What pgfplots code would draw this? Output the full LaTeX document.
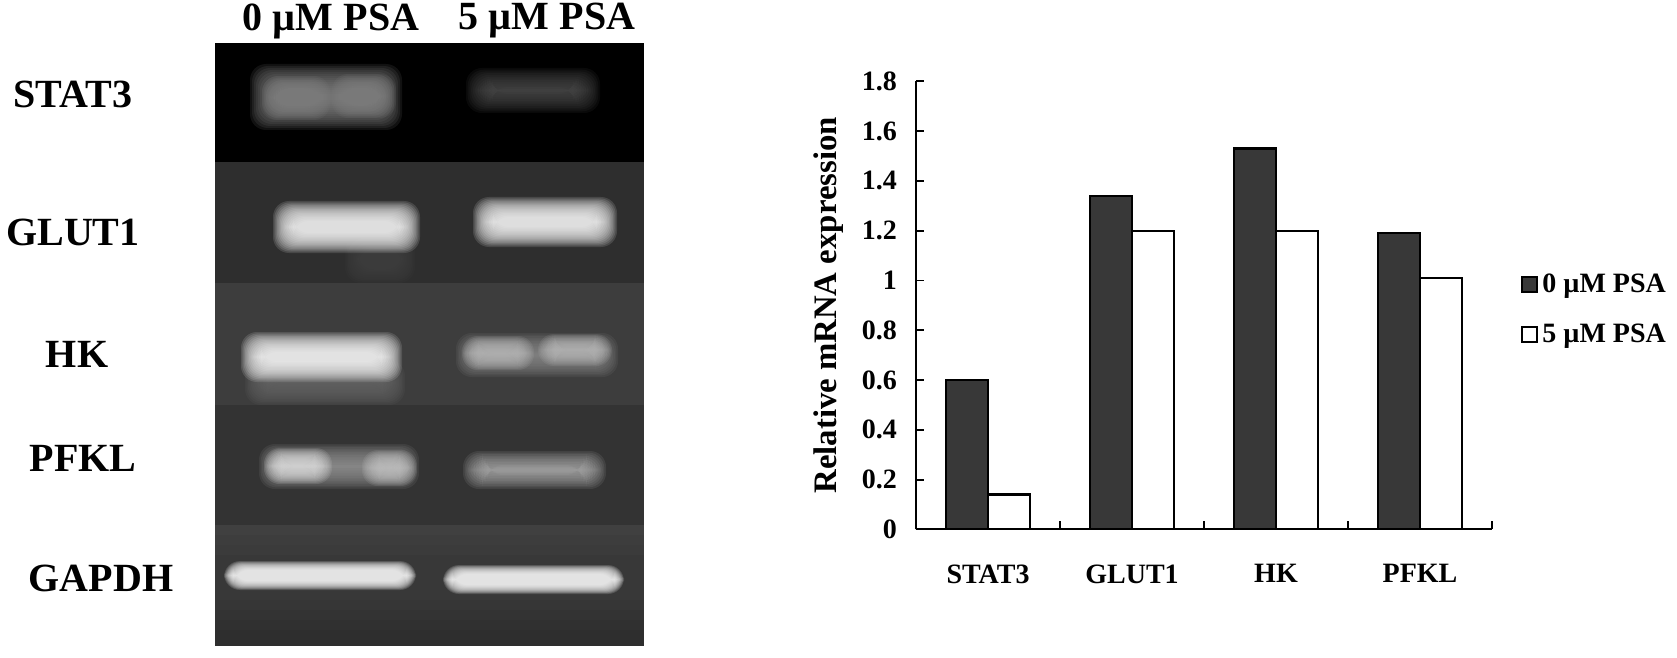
\documentclass[border=0pt]{standalone}
\usepackage{fontspec}
\setmainfont{Liberation Serif}
\usepackage{pgfplots}
\pgfplotsset{compat=1.18}

\definecolor{bardark}{HTML}{383838}

% gel coordinates are reference pixels
\newcommand\panel[3]{%
  \addplot[draw=none,fill=#3] coordinates {(215,#1)(644,#1)(644,#2)(215,#2)} --cycle;}
% soft band: x0 x1 y0 y1 blur colour
\newcommand\band[6]{%
  \pgfplotsforeachungrouped \i in {0,...,15} {%
    \pgfmathsetmacro\xa{#1+#5*\i/15}%
    \pgfmathsetmacro\xb{#2-#5*\i/15}%
    \pgfmathsetmacro\ya{#3+#5*\i/15}%
    \pgfmathsetmacro\yb{#4-#5*\i/15}%
    \edef\temp{\noexpand\addplot[draw=none,fill=#6,fill opacity=.13,rounded corners=8pt]
      coordinates {(\xa,\ya)(\xb,\ya)(\xb,\yb)(\xa,\yb)} --cycle;}%
    \temp
  }}

\begin{document}
\begin{tikzpicture}
\useasboundingbox (0,0) rectangle (838.5pt,329pt);

% gel panel and row labels
\begin{axis}[
  at={(0,0)},anchor=south west,
  scale only axis,width=838.5pt,height=329pt,
  xmin=0,xmax=1677,ymin=0,ymax=658,y dir=reverse,
  hide axis,clip=false,
  nodes={font=\bfseries\fontsize{20}{20}\selectfont,text=black}]
\panel{43}{162}{black}
\panel{162}{283}{black!82}
\panel{283}{405}{black!76}
\panel{405}{525}{black!80}
\panel{525}{535}{black!75}
\panel{535}{545}{black!76}
\panel{545}{555}{black!77}
\panel{555}{600}{black!78}
\panel{600}{610}{black!79}
\panel{610}{620}{black!80}
\panel{620}{630}{black!81}
\panel{630}{646}{black!82}

% faint smears first, so the bands lie over them
\band{345}{415}{235}{283}{22}{black!74}
\band{245}{405}{360}{405}{22}{black!60}

\band{250}{402}{64}{130}{30}{black!48}
\band{262}{330}{76}{120}{20}{black!50}
\band{332}{396}{74}{118}{20}{black!50}
\band{466}{600}{68}{113}{26}{black!70}
\band{273}{420}{201}{253}{20}{black!3}
\band{473}{617}{197}{247}{20}{black!3}
\band{241}{402}{332}{382}{20}{black!2}
\band{456}{618}{333}{377}{24}{black!46}
\band{462}{534}{336}{370}{17}{black!28}
\band{538}{612}{334}{366}{17}{black!28}
\band{259}{419}{444}{489}{24}{black!42}
\band{264}{332}{448}{484}{17}{black!14}
\band{362}{417}{450}{486}{17}{black!24}
\band{463}{606}{451}{489}{24}{black!33}
\band{224}{416}{561}{590}{9}{black!1}
\band{443}{624}{565}{594}{9}{black!1}

\node at (axis cs:73,94) {STAT3};
\node at (axis cs:73,232) {GLUT1};
\node at (axis cs:77,354) {HK};
\node at (axis cs:83,458) {PFKL};
\node at (axis cs:101,578) {GAPDH};
\node at (axis cs:331,21) {0 µM PSA};
\node at (axis cs:547,21) {5 µM PSA};
\end{axis}

% bar chart
\begin{axis}[
  at={(458pt,64.3pt)},anchor=south west,
  scale only axis,width=288pt,height=224pt,
  xmin=-0.5,xmax=3.5,ymin=0,ymax=1.8,
  axis lines=left,axis line style={-,line width=.9pt},
  ybar,bar width=21pt,bar shift auto,ybar=0pt,
  xtick={0,1,2,3},xticklabels={STAT3,GLUT1,HK,PFKL},
  minor xtick={-0.5,0.5,1.5,2.5,3.5},
  x tick style={draw=none},
  minor x tick style={draw=black,line width=.9pt},
  minor tick length=4pt,
  x tick label style={yshift=-14pt},
  ytick={0,0.2,0.4,0.6,0.8,1,1.2,1.4,1.6,1.8},
  yticklabels={0,0.2,0.4,0.6,0.8,1,1.2,1.4,1.6,1.8},
  y tick style={black,line width=.9pt},
  major tick length=4pt,
  tick align=inside,
  ticklabel style={font=\bfseries\fontsize{14}{14}\selectfont},
  y tick label style={xshift=-6pt},
  ylabel={Relative mRNA expression},
  ylabel style={font=\bfseries\fontsize{16.4}{16.4}\selectfont,at={(axis description cs:-0.113,0.5)}},
  clip=false,
  legend style={at={(axis description cs:1.04,0.49)},anchor=west,draw=none,fill=none,
    font=\bfseries\fontsize{14}{14}\selectfont,row sep=10pt,
    /tikz/every even column/.append style={column sep=2pt}},
  legend cell align=left,
  legend image code/.code={\draw[#1,line width=1pt] (0,-3.5pt) rectangle (7.5pt,4pt);}
]
\addplot[draw=black,line width=1.1pt,fill=bardark] coordinates {(0,0.60)(1,1.34)(2,1.53)(3,1.19)};
\addplot[draw=black,line width=1.1pt,fill=white] coordinates {(0,0.14)(1,1.20)(2,1.20)(3,1.01)};
\legend{0 µM PSA,5 µM PSA}
\end{axis}
\end{tikzpicture}
\end{document}
